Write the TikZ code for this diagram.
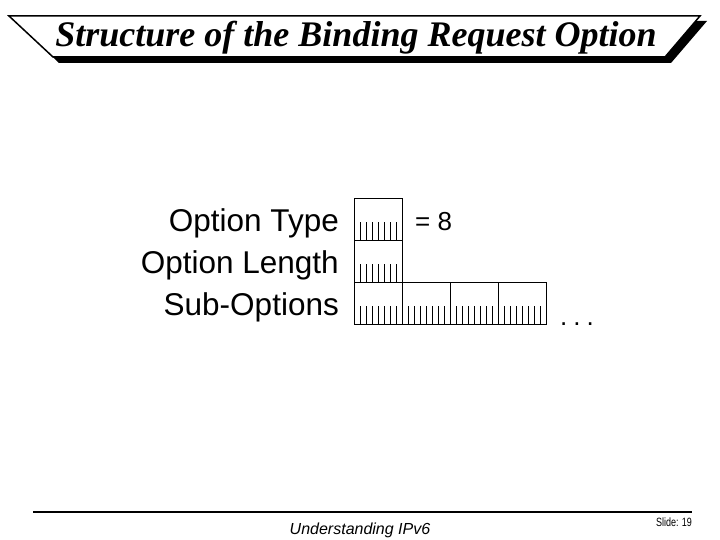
\documentclass[tikz,border=0pt]{standalone}
\usepackage{fontspec}
\setmainfont{Liberation Sans}
\newfontfamily\headfont{Liberation Serif}
\usetikzlibrary{positioning}
\tikzset{%
  bytebox/.style={draw,line width=0.9pt,outer sep=0,inner sep=0,minimum width=48pt,minimum height=42pt,
    path picture={\foreach \k in {1,...,7}
      \draw[line width=0.9pt] ([xshift=\k*6pt]path picture bounding box.south west) -- ++(0,18pt);}},
  fieldlabel/.style={font=\fontsize{31.5}{36}\selectfont,inner sep=0,yshift=-4pt},
  valuelabel/.style={font=\fontsize{26}{30}\selectfont,inner sep=0},
  footlabel/.style={font=\fontsize{16}{18}\selectfont\itshape,inner sep=0}
}

\begin{document}
\begin{tikzpicture}[x=1pt,y=-1pt]
    \useasboundingbox (0,0) rectangle (720,540);
    % title banner with its shadow
    \fill (15,21) -- (707,21) -- (671,63) -- (59,63) -- cycle;
    \draw[fill=white,line width=1.5pt] (9,16) -- (700,16) -- (665,57) -- (53,57) -- cycle;
    \node (title) at (356,47) [anchor=base,inner sep=0]
      {\fontsize{36}{40}\headfont\bfseries\itshape Structure of the Binding Request Option};
    % the fields
    \node (type) at (378,219) [bytebox]{};
    \node (len) [bytebox,below=0pt of type]{};
    \node (sub0) [bytebox,below=0pt of len]{};
    \node (sub1) [bytebox,right=0pt of sub0]{};
    \node (sub2) [bytebox,right=0pt of sub1]{};
    \node (sub3) [bytebox,right=0pt of sub2]{};
    \node (typelbl) [fieldlabel,left=15pt of type]{Option Type};
    \node (lenlbl) [fieldlabel,left=15pt of len]{Option Length};
    \node (sublbl) [fieldlabel,left=15pt of sub0]{Sub-Options};
    \node (typeval) [valuelabel,right=13pt of type,yshift=-3pt]{= 8};
    \node (more) [valuelabel,right=14pt of sub3.south east,anchor=base west,yshift=-1pt]{.\hspace{6pt}.\hspace{6pt}.};
    % footer
    \draw[line width=2.5pt] (33,512) coordinate (footl) -- (692,512) coordinate (footr);
    \node (course) at (360,530) [footlabel]{Understanding IPv6};
    \node (slide) at (674,522) [inner sep=0,font=\fontsize{12}{13}\selectfont]{\scalebox{0.75}[1]{Slide: 19}};
\end{tikzpicture}
\end{document}
